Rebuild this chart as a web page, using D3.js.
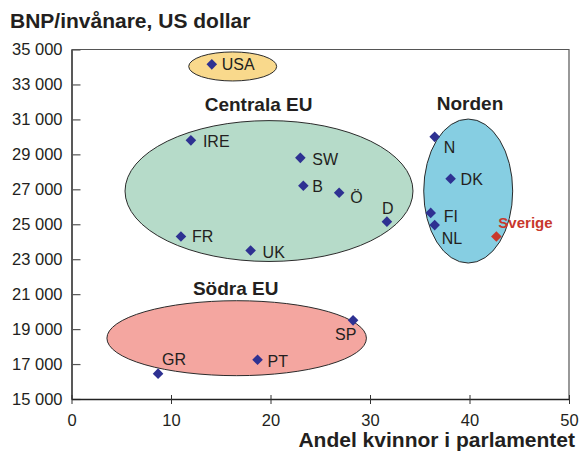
<!DOCTYPE html>
<html>
<head>
<meta charset="utf-8">
<script src="https://cdn.jsdelivr.net/npm/d3@7"></script>
<style>
  body { margin: 0; background: #fff; }
  text { font-family: "Liberation Sans", Arial, sans-serif; fill: #231f20; }
</style>
</head>
<body>
<div id="chartEl"></div>
<script>
// countries: share of women in parliament (%) vs GDP per capita (USD)
const countries = ['USA', 'IRE', 'SW', 'B', 'Ö', 'D', 'FR', 'UK', 'N', 'DK', 'FI', 'NL', 'Sverige', 'SP', 'PT', 'GR'];
const womenShare = [14.1, 12.0, 23.0, 23.3, 26.9, 31.7, 11.0, 18.0, 36.5, 38.1, 36.1, 36.5, 42.7, 28.3, 18.7, 8.7];
const gdpPerCapita = [34150, 29800, 28800, 27200, 26800, 25150, 24300, 23500, 30000, 27600, 25650, 24950, 24300, 19500, 17250, 16450];

const groupNames = ['USA', 'Centrala EU', 'Norden', 'Södra EU'];
const xTicks = [0, 10, 20, 30, 40, 50];
const yTicks = [15000, 17000, 19000, 21000, 23000, 25000, 27000, 29000, 31000, 33000, 35000];

const width = 579;
const height = 452;
const margin = {top: 49.5, right: 10, bottom: 53, left: 71.5};
const w = width - margin.left - margin.right;
const h = height - margin.top - margin.bottom;

const x = d3.scaleLinear().domain([0, 50]).range([0, w]);
const y = d3.scaleLinear().domain([15000, 35000]).range([h, 0]);

// ellipse outlines, in data units (centre x, centre y, radius x, radius y)
const ellipses = [
  {name: 'USA', cx: 16.2, cy: 34030, rx: 4.42, ry: 830, fill: '#f9d98c'},
  {name: 'Centrala EU', cx: 19.85, cy: 26900, rx: 14.47, ry: 4030, fill: '#b6dbc9'},
  {name: 'Norden', cx: 39.87, cy: 26900, rx: 4.47, ry: 4120, fill: '#86cee2'},
  {name: 'Södra EU', cx: 16.6, cy: 18480, rx: 13.04, ry: 2145, fill: '#f4a6a0'}
];
const groupLabelPos = {'Centrala EU': [18.8, 31500], 'Norden': [40.05, 31550], 'Södra EU': [16.5, 20950]};

// label offsets in px from the marker
const labelOffset = {
  USA: [10, 6], IRE: [12, 7], SW: [12, 7], B: [9, 6], 'Ö': [11, 10], D: [-5, -8],
  FR: [11, 6], UK: [12, 8], N: [9, 16], DK: [10, 6], FI: [13, 9], NL: [7, 19],
  Sverige: [2, -8], SP: [-18, 20], PT: [10, 7], GR: [4, -9]
};

const fmt = d3.formatLocale({decimal: ',', thousands: ' ', grouping: [3], currency: ['', '']}).format(',d');

const svg = d3.select('#chartEl').append('svg')
  .attr('width', width)
  .attr('height', height);

svg.append('text')
  .attr('x', 10)
  .attr('y', 28)
  .attr('font-size', 21)
  .attr('font-weight', 'bold')
  .text('BNP/invånare, US dollar');

const g = svg.append('g')
  .attr('transform', 'translate(' + margin.left + ',' + margin.top + ')');

// frame top/right
g.append('path')
  .attr('d', 'M0,0H' + w + 'V' + h)
  .attr('fill', 'none')
  .attr('stroke', '#555')
  .attr('stroke-width', 1.2);

g.selectAll('.grp')
  .data(ellipses)
  .enter().append('ellipse')
  .attr('class', 'grp')
  .attr('cx', d => x(d.cx))
  .attr('cy', d => y(d.cy))
  .attr('rx', d => x(d.rx) - x(0))
  .attr('ry', d => y(0) - y(d.ry))
  .attr('fill', d => d.fill)
  .attr('stroke', '#2b2b2b')
  .attr('stroke-width', 1);

g.selectAll('.glabel')
  .data(groupNames.filter(n => groupLabelPos[n]))
  .enter().append('text')
  .attr('class', 'glabel')
  .attr('x', d => x(groupLabelPos[d][0]))
  .attr('y', d => y(groupLabelPos[d][1]))
  .attr('text-anchor', 'middle')
  .attr('font-size', 19)
  .attr('font-weight', 'bold')
  .text(d => d);

const yAxis = d3.axisLeft(y)
  .tickValues(yTicks)
  .tickFormat(fmt)
  .tickSizeInner(-9)
  .tickSizeOuter(0)
  .tickPadding(9);

const yg = g.append('g').call(yAxis);
yg.selectAll('text').attr('font-size', 16.5).style('font-family', '"Liberation Sans", Arial, sans-serif').attr('fill', '#231f20');
yg.selectAll('line').attr('stroke', '#555').attr('stroke-width', 1.2);
yg.select('.domain').attr('stroke', '#222').attr('stroke-width', 1.5);

const xAxis = d3.axisBottom(x)
  .tickValues(xTicks)
  .tickSizeInner(5)
  .tickSizeOuter(0)
  .tickPadding(10);

const xg = g.append('g')
  .attr('transform', 'translate(0,' + h + ')')
  .call(xAxis);
xg.selectAll('.tick line').attr('y1', -4).attr('stroke', '#333');
xg.selectAll('text').attr('font-size', 16.5).style('font-family', '"Liberation Sans", Arial, sans-serif').attr('fill', '#231f20');
xg.select('.domain').attr('stroke', '#222').attr('stroke-width', 1.5);

svg.append('text')
  .attr('x', 575)
  .attr('y', 447)
  .attr('text-anchor', 'end')
  .attr('font-size', 21)
  .attr('font-weight', 'bold')
  .text('Andel kvinnor i parlamentet');

const points = countries.map((c, i) => ({name: c, x: womenShare[i], y: gdpPerCapita[i]}));
const diamond = d3.symbol().type(d3.symbolSquare).size(56);

const pt = g.selectAll('.pt')
  .data(points)
  .enter().append('g')
  .attr('class', 'pt')
  .attr('transform', d => 'translate(' + x(d.x) + ',' + y(d.y) + ')');

pt.append('path')
  .attr('d', diamond)
  .attr('transform', 'rotate(45)')
  .attr('fill', d => d.name === 'Sverige' ? '#c8382c' : '#2e3192');

pt.append('text')
  .attr('x', d => labelOffset[d.name][0])
  .attr('y', d => labelOffset[d.name][1])
  .attr('font-size', d => d.name === 'Sverige' ? 15 : 16)
  .attr('font-weight', d => d.name === 'Sverige' ? 'bold' : 'normal')
  .style('fill', d => d.name === 'Sverige' ? '#c8382c' : '#231f20')
  .text(d => d.name);
</script>
</body>
</html>
